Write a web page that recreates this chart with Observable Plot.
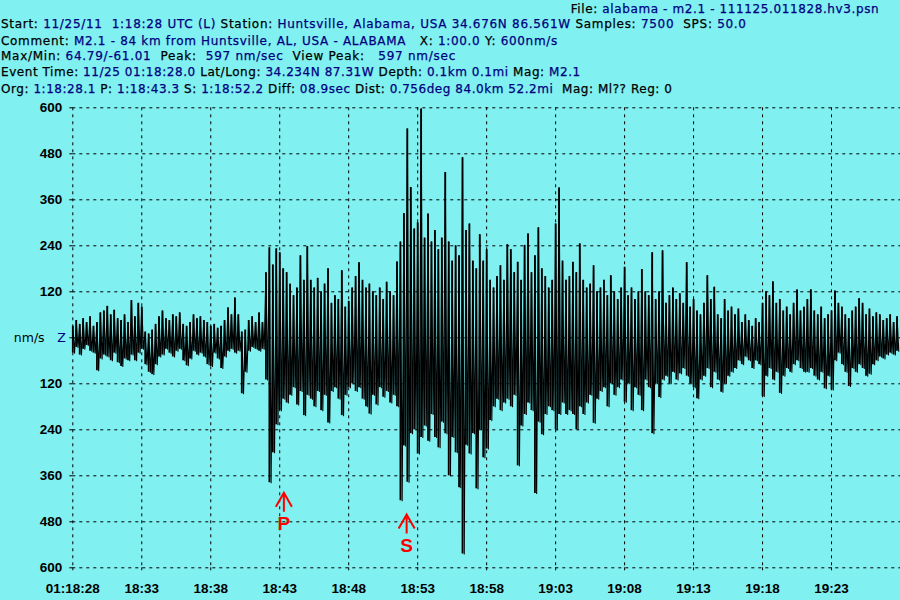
<!DOCTYPE html>
<html><head><meta charset="utf-8">
<script src="https://cdn.jsdelivr.net/npm/d3@7"></script>
<script src="https://cdn.jsdelivr.net/npm/@observablehq/plot@0.6"></script>
<style>
html,body{margin:0;padding:0;background:#80f0f0;}
#wrap{position:relative;width:900px;height:600px;overflow:hidden;background:#80f0f0;}
#hdr{position:relative;width:900px;height:100px;font-family:"DejaVu Sans",sans-serif;font-size:12px;}
.ln{position:absolute;white-space:pre;line-height:16px;color:#000;-webkit-text-stroke:0.25px currentColor;}
.v{color:#000080;}
#chart svg{display:block;}
</style></head><body>
<div id="wrap"><div id="hdr"></div><div id="chart"></div></div>
<script>
// ---- header text (label segments black, value segments navy: [text, isValue]) ----
const hdrFile    = [["File: ",0],["alabama - m2.1 - 111125.011828.hv3.psn",1]];
const hdrStart   = [["Start: ",0],["11/25/11  1:18:28 UTC (L)",1],[" Station: ",0],["Huntsville, Alabama, USA 34.676N 86.561W",1],[" Samples: ",0],["7500",1],["  SPS: ",0],["50.0",1]];
const hdrComment = [["Comment: ",0],["M2.1 - 84 km from Huntsville, AL, USA - ALABAMA",1],["   X: ",0],["1:00.0",1],[" Y: ",0],["600nm/s",1]];
const hdrMaxMin  = [["Max/Min: ",0],["64.79/-61.01",1],["  Peak: ",0],[" 597 nm/sec",1],["  View Peak: ",0],["  597 nm/sec",1]];
const hdrEvent   = [["Event Time: ",0],["11/25 01:18:28.0",1],[" Lat/Long: ",0],["34.234N 87.31W",1],[" Depth: ",0],["0.1km 0.1mi",1],[" Mag: ",0],["M2.1",1]];
const hdrOrg     = [["Org: ",0],["1:18:28.1",1],[" P: ",0],["1:18:43.3",1],[" S: ",0],["1:18:52.2",1],[" Diff: ",0],["08.9sec",1],[" Dist: ",0],["0.756deg 84.0km 52.2mi",1],["  Mag: Ml?? Reg: 0",0]];

// ---- axis ticks ----
const yTicks = [-600,-480,-360,-240,-120,0,120,240,360,480,600];
const xTicks = [0,5,10,15,20,25,30,35,40,45,50,55];           // seconds after 01:18:28
const xTickLabels = ["01:18:28","18:33","18:38","18:43","18:48","18:53","18:58","19:03","19:08","19:13","19:18","19:23"];

// ---- waveform envelope, nm/s, one column every 0.25 s (max / min within column) ----
const colStep = 0.25;
const hi = [
 30,45,35,50,40,55,30,40,65,70,
 82,60,72,50,45,60,40,97,55,90,
 80,15,10,20,35,55,70,50,45,60,
 55,65,35,30,40,60,50,55,45,40,
 30,35,25,30,45,78,60,104,60,15,
 20,45,55,40,65,40,170,235,190,232,
 222,180,170,140,110,130,214,150,238,150,
 130,155,120,140,180,90,110,100,175,80,
 95,130,160,196,150,130,140,120,110,130,
 100,145,120,110,198,250,324,545,392,284,
 300,597,260,323,250,280,230,260,431,250,
 200,240,214,470,280,297,200,180,269,200,
 230,150,130,160,188,150,243,230,170,197,
 150,241,271,170,214,287,180,160,130,150,
 297,391,200,150,160,197,170,245,150,130,
 140,188,120,130,150,110,162,120,100,130,
 184,110,130,100,120,178,120,110,222,100,
 120,227,90,110,130,100,115,90,196,80,
 100,70,60,90,162,100,132,60,50,100,
 70,80,60,75,40,60,45,30,50,40,
 90,120,110,146,90,100,70,80,60,90,
 125,70,80,100,125,70,60,80,50,60,
 70,122,90,80,60,50,70,80,102,90,
 60,75,55,65,60,45,50,60,40,55];
const lo = [
 -40,-25,-45,-30,-20,-35,-40,-86,-55,-45,
 -50,-60,-40,-65,-75,-55,-60,-45,-60,-40,
 -30,-70,-90,-96,-70,-50,-45,-30,-40,-50,
 -35,-30,-60,-73,-55,-35,-45,-40,-50,-70,
 -75,-40,-55,-80,-50,-35,-30,-40,-35,-146,
 -90,-35,-25,-30,-35,-30,-110,-378,-300,-227,
 -190,-160,-170,-150,-130,-175,-140,-203,-150,-160,
 -180,-140,-190,-150,-222,-140,-130,-160,-203,-150,
 -130,-120,-140,-130,-160,-180,-199,-150,-175,-130,
 -155,-140,-170,-150,-180,-425,-282,-377,-250,-240,
 -303,-260,-230,-270,-200,-260,-287,-220,-250,-360,
 -260,-300,-391,-564,-280,-303,-250,-394,-240,-313,
 -290,-216,-180,-160,-190,-170,-160,-180,-150,-334,
 -230,-200,-170,-190,-406,-220,-253,-200,-180,-190,
 -240,-200,-170,-200,-190,-200,-240,-180,-200,-170,
 -150,-223,-160,-140,-130,-180,-120,-150,-130,-110,
 -168,-120,-190,-130,-150,-190,-110,-130,-250,-120,
 -156,-110,-100,-120,-90,-110,-94,-80,-100,-120,
 -130,-159,-110,-100,-80,-130,-90,-110,-142,-120,
 -100,-90,-80,-60,-70,-50,-60,-80,-60,-70,
 -153,-100,-80,-110,-90,-145,-100,-80,-90,-70,
 -60,-80,-90,-90,-80,-100,-110,-90,-133,-100,
 -136,-60,-40,-70,-90,-127,-80,-90,-70,-80,
 -100,-95,-70,-60,-50,-55,-45,-40,-45,-35];

// ---- phase picks (seconds after start) ----
const phaseLabels = ["P","S"];
const phaseTimes  = [15.3, 24.2];

// ================= header =================
const hdrLayout = [
  {segs: hdrFile,    left: 570.7, top: 0.6,  width: 308.6},
  {segs: hdrStart,   left: 1,     top: 16.3, width: 745.7},
  {segs: hdrComment, left: 1,     top: 33.0, width: 557},
  {segs: hdrMaxMin,  left: 1,     top: 48.3, width: 455},
  {segs: hdrEvent,   left: 1,     top: 64.3, width: 579.7},
  {segs: hdrOrg,     left: 1,     top: 80.6, width: 671.7}
];
const hdr = document.getElementById("hdr");
hdrLayout.forEach(L => {
  const div = document.createElement("div");
  div.className = "ln";
  div.style.left = L.left + "px";
  div.style.top = L.top + "px";
  L.segs.forEach(([s, isV]) => {
    const sp = document.createElement("span");
    sp.textContent = s;
    if (isV) sp.className = "v";
    div.appendChild(sp);
  });
  hdr.appendChild(div);
  const w = div.getBoundingClientRect().width;
  const n = div.textContent.length;
  div.style.letterSpacing = ((L.width - w) / n) + "px";
});

// ================= chart =================
const cols = hi.map((h, i) => ({t: i * colStep, hi: h, lo: lo[i]}));
const pts = [];
cols.forEach(c => {
  pts.push({t: c.t, v: c.hi});
  pts.push({t: c.t + colStep / 2, v: c.lo});
});
const phases = phaseLabels.map((label, i) => ({label, t: phaseTimes[i], row: i}));
const xLabelMap = new Map(xTicks.map((t, i) => [t, xTickLabels[i]]));

const arrowSymbol = {
  draw(ctx) {
    ctx.moveTo(-8, 14); ctx.lineTo(0, 0); ctx.lineTo(8, 14);
    ctx.moveTo(0, 0); ctx.lineTo(0, 19);
  }
};

const tickFont = {fontFamily: "Liberation Sans, Arial, sans-serif", fontWeight: "bold", fontSize: 13.5};

const chart = Plot.plot({
  width: 900,
  height: 500,
  marginTop: 7.3,
  marginBottom: 32.7,
  marginLeft: 72.3,
  marginRight: 0,
  style: {background: "#80f0f0", color: "#000", overflow: "visible"},
  x: {domain: [0, 60]},
  y: {domain: [-600, 600]},
  marks: [
    Plot.gridY(yTicks, {stroke: "#000", strokeOpacity: 1, strokeDasharray: "3,4"}),
    Plot.gridX(xTicks, {stroke: "#000", strokeOpacity: 1, strokeDasharray: "3,4"}),
    Plot.axisY(yTicks, {tickSize: 6, tickPadding: 4.5, strokeDasharray: "3,4", label: null,
      tickFormat: d => d === 0 ? "" : String(Math.abs(d)), ...tickFont}),
    Plot.axisX(xTicks, {tickSize: 6, tickPadding: 10, strokeDasharray: "3,4", label: null,
      tickFormat: d => xLabelMap.get(d), ...tickFont}),
    Plot.text(["nm/s"], {frameAnchor: "left", dx: -59, textAnchor: "start", fill: "#000",
      fontFamily: "DejaVu Sans, sans-serif", fontSize: 12.5}),
    Plot.text(["Z"], {frameAnchor: "left", dx: -15.5, textAnchor: "start", fill: "#000080",
      fontFamily: "DejaVu Sans, sans-serif", fontSize: 12.5}),
    Plot.ruleX(cols, {x: "t", y1: "lo", y2: "hi", stroke: "#000", strokeWidth: 1.8}),
    Plot.line(pts, {x: "t", y: "v", stroke: "#000", strokeWidth: 1.1}),
    Plot.dot(phases, {x: "t", y: d => d.row === 0 ? -404 : -461, symbol: arrowSymbol, r: 3,
      fill: "none", stroke: "#ff0000", strokeWidth: 2}),
    Plot.text(phases, {x: "t", y: d => d.row === 0 ? -485 : -542, text: "label", fill: "#ff0000",
      fontFamily: "Liberation Sans, Arial, sans-serif", fontWeight: "bold", fontSize: 19})
  ]
});
document.getElementById("chart").appendChild(chart);
</script></body></html>
